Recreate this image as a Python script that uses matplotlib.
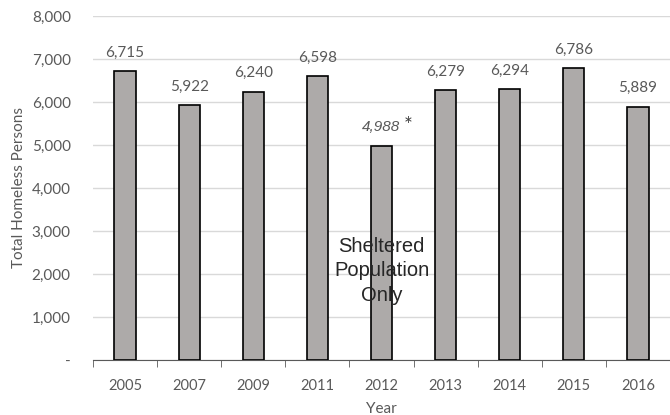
import matplotlib.pyplot as plt
from matplotlib.ticker import FuncFormatter

years = ["2005", "2007", "2009", "2011", "2012", "2013", "2014", "2015", "2016"]
homeless = [6715, 5922, 6240, 6598, 4988, 6279, 6294, 6786, 5889]
yticks = [0, 1000, 2000, 3000, 4000, 5000, 6000, 7000, 8000]

plt.rcParams['font.family'] = ['Lato', 'DejaVu Sans']
txt = '#595959'

fig = plt.figure(figsize=(6.7, 4.15), dpi=100)
ax = fig.add_axes([93/670, 55/415, 577/670, 344/415])

x = range(len(years))
ax.bar(x, homeless, width=0.33, color='#ADAAA9', edgecolor='black', linewidth=1.2, zorder=3)

for i, v in enumerate(homeless):
    if years[i] == "2012":
        ax.text(i, v + 270, f"{v:,}", ha='center', va='bottom', fontsize=11,
                style='italic', family='Liberation Sans', color=txt)
        ax.text(i + 0.42, v + 450, "*", ha='center', va='center', fontsize=15, color='#404040')
    else:
        ax.text(i, v + 270, f"{v:,}", ha='center', va='bottom', fontsize=11, color=txt)

ax.text(4, 2070, "Sheltered\nPopulation\nOnly", ha='center', va='center', fontsize=14.5,
        family='Liberation Sans', color='#262626', linespacing=1.35, zorder=4)

ax.set_xlim(-0.5, len(years) - 0.5)
ax.set_ylim(0, 8000)
ax.set_yticks(yticks)
ax.yaxis.set_major_formatter(FuncFormatter(lambda v, p: '-' if v == 0 else f"{int(v):,}"))
ax.set_xticks(list(x))
ax.set_xticklabels(years)
ax.set_xticks([i - 0.5 for i in range(len(years) + 1)], minor=True)

ax.grid(axis='y', color='#D9D9D9', linewidth=1, zorder=0)
for s in ['top', 'right', 'left']:
    ax.spines[s].set_visible(False)
ax.spines['bottom'].set_color('#595959')

ax.tick_params(axis='y', length=0, labelsize=11, labelcolor=txt, pad=16)
ax.tick_params(axis='x', which='major', length=0, labelsize=10.5, labelcolor=txt, pad=14)
ax.tick_params(axis='x', which='minor', length=5, color='#595959')

ax.set_ylabel("Total Homeless Persons", fontsize=11, color=txt, labelpad=4)
ax.set_xlabel("Year", fontsize=11, color=txt, labelpad=6)

fig.savefig("out.png", dpi=100)
